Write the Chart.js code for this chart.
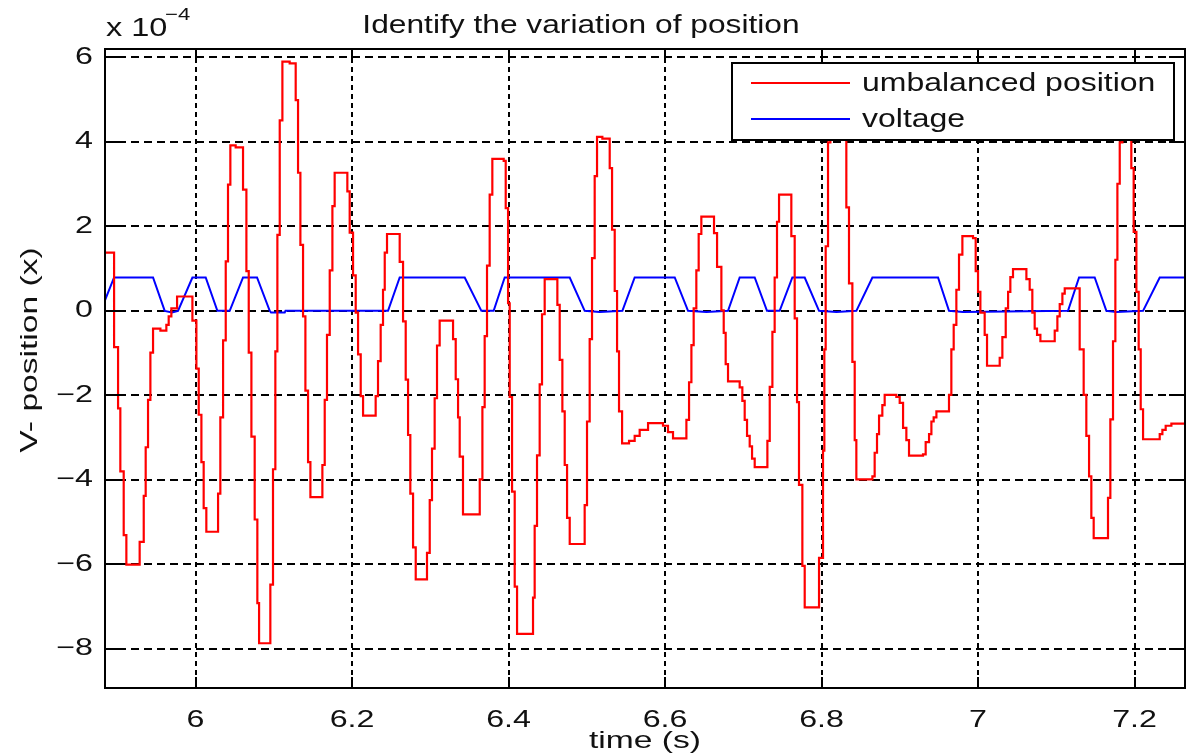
<!DOCTYPE html>
<html>
<head>
<meta charset="utf-8">
<script src="https://cdn.jsdelivr.net/npm/chart.js@4.4.1/dist/chart.umd.min.js"></script>
<style>
  html, body { margin: 0; padding: 0; background: #fff; }
  canvas { display: block; }
</style>
</head>
<body>
<canvas id="chart" width="1191" height="753"></canvas>
<script>
// values in units of 1e-4
const posTime = [
    5.8845, 5.8959, 5.9010, 5.9039, 5.9082, 5.9116, 5.9286, 5.9338, 5.9363, 5.9393,
    5.9423, 5.9457, 5.9551, 5.9627, 5.9657, 5.9691, 5.9764, 5.9960, 6.0011, 6.0041,
    6.0075, 6.0104, 6.0138, 6.0288, 6.0317, 6.0352, 6.0386, 6.0415, 6.0445, 6.0513,
    6.0607, 6.0650, 6.0680, 6.0714, 6.0756, 6.0790, 6.0812, 6.0956, 6.0990, 6.1020,
    6.1046, 6.1076, 6.1110, 6.1203, 6.1280, 6.1310, 6.1340, 6.1374, 6.1404, 6.1438,
    6.1468, 6.1621, 6.1651, 6.1680, 6.1715, 6.1749, 6.1778, 6.1940, 6.1970, 6.2013,
    6.2047, 6.2077, 6.2111, 6.2141, 6.2302, 6.2332, 6.2366, 6.2396, 6.2418, 6.2447,
    6.2609, 6.2652, 6.2686, 6.2716, 6.2745, 6.2780, 6.2814, 6.2958, 6.2993, 6.3022,
    6.3056, 6.3086, 6.3120, 6.3291, 6.3325, 6.3355, 6.3376, 6.3418, 6.3632, 6.3666,
    6.3695, 6.3725, 6.3759, 6.3793, 6.3938, 6.3964, 6.3994, 6.4015, 6.4045, 6.4079,
    6.4109, 6.4313, 6.4334, 6.4364, 6.4398, 6.4428, 6.4462, 6.4624, 6.4654, 6.4688,
    6.4718, 6.4748, 6.4782, 6.4973, 6.5003, 6.5037, 6.5067, 6.5101, 6.5131, 6.5199,
    6.5293, 6.5323, 6.5357, 6.5387, 6.5412, 6.5451, 6.5540, 6.5612, 6.5676, 6.5783,
    6.5974, 6.6038, 6.6102, 6.6273, 6.6307, 6.6337, 6.6366, 6.6400, 6.6430, 6.6464,
    6.6626, 6.6665, 6.6720, 6.6750, 6.6775, 6.6805, 6.6954, 6.6988, 6.7018, 6.7048,
    6.7082, 6.7112, 6.7146, 6.7308, 6.7338, 6.7372, 6.7401, 6.7431, 6.7457, 6.7614,
    6.7657, 6.7687, 6.7712, 6.7755, 6.7785, 6.7968, 6.8019, 6.8036, 6.8053, 6.8083,
    6.8113, 6.8211, 6.8283, 6.8317, 6.8351, 6.8394, 6.8424, 6.8445, 6.8650, 6.8679,
    6.8709, 6.8735, 6.8777, 6.8807, 6.8956, 6.8999, 6.9042, 6.9084, 6.9118, 6.9297,
    6.9331, 6.9374, 6.9404, 6.9433, 6.9468, 6.9629, 6.9659, 6.9689, 6.9723, 6.9757,
    6.9800, 6.9936, 6.9970, 7.0000, 7.0030, 7.0085, 7.0115, 7.0277, 7.0311, 7.0354,
    7.0384, 7.0413, 7.0447, 7.0618, 7.0660, 7.0694, 7.0724, 7.0754, 7.0797, 7.0980,
    7.1014, 7.1044, 7.1078, 7.1108, 7.1299, 7.1350, 7.1384, 7.1419, 7.1448, 7.1478,
    7.1661, 7.1691, 7.1725, 7.1755, 7.1781, 7.1811, 7.1845, 7.1930, 7.1959, 7.1989,
    7.2024, 7.2053, 7.2079, 7.2109, 7.2322, 7.2356, 7.2398, 7.2471, 7.2653
];
const posValue = [
    1.38, -0.86, -2.31, -3.80, -5.31, -6.01, -5.47, -4.38, -3.23, -2.11,
    -0.99, -0.42, -0.47, -0.33, -0.13, 0.06, 0.34, -0.23, -1.37, -2.46,
    -3.58, -4.67, -5.23, -4.33, -2.52, -0.70, 1.17, 2.99, 3.92, 3.87,
    2.87, 0.94, -0.99, -2.98, -4.94, -6.92, -7.87, -6.48, -3.75, -0.96,
    1.80, 4.51, 5.90, 5.86, 4.99, 3.27, 1.56, -0.13, -1.89, -3.58,
    -4.41, -3.65, -2.11, -0.57, 0.96, 2.48, 3.27, 2.83, 1.85, 0.84,
    -0.04, -1.03, -2.02, -2.48, -2.02, -1.19, -0.33, 0.50, 1.38, 1.82,
    1.16, -0.25, -1.63, -2.94, -4.33, -5.60, -6.36, -5.73, -4.48, -3.26,
    -2.07, -0.82, -0.23, -0.67, -1.62, -2.52, -3.45, -4.82, -3.99, -2.28,
    -0.60, 1.07, 2.75, 3.60, 3.55, 2.43, 0.18, -2.04, -4.28, -6.53,
    -7.65, -6.79, -5.09, -3.42, -1.74, -0.08, 0.75, 0.14, -1.16, -2.38,
    -3.65, -4.90, -5.52, -4.60, -2.62, -0.67, 1.25, 3.19, 4.12, 4.08,
    3.38, 1.92, 0.47, -0.96, -2.38, -3.14, -3.08, -2.96, -2.82, -2.66,
    -2.72, -2.87, -3.02, -2.58, -1.69, -0.81, 0.06, 0.96, 1.82, 2.23,
    1.84, 1.04, 0.01, -0.52, -1.26, -1.67, -1.81, -2.13, -2.58, -2.96,
    -3.21, -3.50, -3.70, -3.08, -1.80, -0.50, 0.79, 2.11, 2.75, 1.77,
    -0.18, -2.16, -4.12, -6.04, -7.02, -5.85, -3.31, -0.91, 1.53, 3.99,
    5.20, 5.40, 5.00, 2.45, 0.65, -1.21, -3.06, -3.99, -3.92, -3.36,
    -2.92, -2.48, -2.23, -1.99, -2.04, -2.18, -2.77, -3.06, -3.43, -3.40,
    -3.11, -2.92, -2.62, -2.52, -2.38, -1.99, -0.91, -0.33, 0.50, 1.33,
    1.77, 1.72, 0.94, 0.45, -0.04, -0.57, -1.30, -1.11, -0.62, 0.06,
    0.45, 0.80, 0.99, 0.75, 0.50, -0.04, -0.42, -0.57, -0.72, -0.47,
    -0.13, 0.16, 0.41, 0.53, -0.91, -1.99, -2.96, -3.92, -4.90, -5.38,
    -4.43, -2.57, -0.72, 1.21, 3.01, 3.99, 5.00, 4.60, 3.38, 1.87,
    0.45, -0.91, -2.33, -3.04, -2.92, -2.82, -2.72, -2.67, -2.70
];

const voltTime = [
    5.8845, 5.8959, 5.9457, 5.9606, 5.9700, 5.9776, 5.9960, 6.0130, 6.0279, 6.0437,
    6.0607, 6.0786, 6.0948, 6.0965, 6.1140, 6.1150, 6.2460, 6.2609, 6.3440, 6.3653,
    6.3810, 6.3951, 6.4782, 6.4973, 6.5165, 6.5455, 6.5612, 6.6124, 6.6294, 6.6528,
    6.6805, 6.6954, 6.7146, 6.7303, 6.7465, 6.7627, 6.7785, 6.7968, 6.8190, 6.8445,
    6.8650, 6.9489, 6.9629, 6.9808, 7.1150, 7.1291, 7.1491, 7.1640, 7.1768, 7.2109,
    7.2322, 7.2671
];
const voltValue = [
    0.26, 0.79, 0.79, 0.00, -0.04, 0.00, 0.79, 0.79, 0.00, 0.00,
    0.79, 0.79, 0.00, -0.04, -0.04, 0.00, 0.00, 0.79, 0.79, 0.00,
    0.00, 0.79, 0.79, 0.00, -0.03, 0.00, 0.79, 0.79, 0.00, -0.03,
    0.00, 0.79, 0.79, 0.00, 0.00, 0.79, 0.79, 0.00, -0.03, 0.00,
    0.79, 0.79, 0.00, -0.03, 0.00, 0.79, 0.79, 0.00, -0.03, 0.00,
    0.79, 0.79
];

const xTicks = [6, 6.2, 6.4, 6.6, 6.8, 7, 7.2];
const xTickLabels = ['6', '6.2', '6.4', '6.6', '6.8', '7', '7.2'];
const yTicks = [-8, -6, -4, -2, 0, 2, 4, 6];
const yTickLabels = ['\u22128', '\u22126', '\u22124', '\u22122', '0', '2', '4', '6'];
const seriesNames = ['umbalanced position', 'voltage'];
const seriesColors = ['#ff0000', '#0000ff'];

const FONT = '"Liberation Sans", Arial, sans-serif';
const INK = '#111';

function drawText(ctx, str, x, y, size, sx, align, rot) {
    ctx.save();
    ctx.translate(x, y);
    if (rot) ctx.rotate(rot);
    ctx.scale(sx, 1);
    ctx.font = size + 'px ' + FONT;
    ctx.fillStyle = INK;
    ctx.textAlign = align;
    ctx.textBaseline = 'middle';
    ctx.fillText(str, 0, 0);
    ctx.restore();
}

// MATLAB style frame, inward ticks, legend and all the text
const matlabFrame = {
    id: 'matlabFrame',
    afterDraw(chart) {
        const ctx = chart.ctx;
        const a = chart.chartArea;
        const xs = chart.scales.x, ys = chart.scales.y;

        // legend box
        const lg = { l: 732, t: 63, r: 1174, b: 140 };
        ctx.save();
        ctx.fillStyle = '#fff';
        ctx.fillRect(lg.l, lg.t, lg.r - lg.l, lg.b - lg.t);
        ctx.strokeStyle = '#000';
        ctx.lineWidth = 2;
        ctx.strokeRect(lg.l, lg.t, lg.r - lg.l, lg.b - lg.t);
        seriesNames.forEach((name, i) => {
            const yy = 83 + i * 36;
            ctx.strokeStyle = seriesColors[i];
            ctx.lineWidth = 2;
            ctx.beginPath();
            ctx.moveTo(751, yy);
            ctx.lineTo(850, yy);
            ctx.stroke();
            drawText(ctx, name, 862, yy + 1, 26, 1.23, 'left');
        });
        ctx.restore();

        // axes box and ticks
        ctx.save();
        ctx.strokeStyle = '#000';
        ctx.lineWidth = 2;
        ctx.strokeRect(a.left, a.top, a.right - a.left, a.bottom - a.top);
        ctx.beginPath();
        xTicks.forEach(v => {
            const px = Math.round(xs.getPixelForValue(v));
            ctx.moveTo(px, a.bottom); ctx.lineTo(px, a.bottom - 11);
            ctx.moveTo(px, a.top); ctx.lineTo(px, a.top + 11);
        });
        yTicks.forEach(v => {
            const py = Math.round(ys.getPixelForValue(v));
            ctx.moveTo(a.left, py); ctx.lineTo(a.left + 16, py);
            ctx.moveTo(a.right, py); ctx.lineTo(a.right - 16, py);
        });
        ctx.stroke();
        ctx.restore();

        // tick labels
        xTicks.forEach((v, i) => {
            drawText(ctx, xTickLabels[i], xs.getPixelForValue(v), 721, 23, 1.4, 'center');
        });
        yTicks.forEach((v, i) => {
            drawText(ctx, yTickLabels[i], 93, ys.getPixelForValue(v), 23, 1.4, 'right');
        });

        // titles
        drawText(ctx, 'Identify the variation of position', 581, 26, 26, 1.22, 'center');
        drawText(ctx, 'x 10', 106, 29, 25, 1.3, 'left');
        drawText(ctx, '\u22124', 165, 15, 17, 1.3, 'left');
        drawText(ctx, 'time (s)', 645, 741, 24, 1.4, 'center');
        drawText(ctx, 'V- position (x)', 30, 350, 24, 1.4, 'center', -Math.PI / 2);
    }
};

const ctx = document.getElementById('chart').getContext('2d');
new Chart(ctx, {
    type: 'line',
    data: {
        datasets: [
            {
                label: seriesNames[0],
                data: posTime.map((t, i) => ({ x: t, y: posValue[i] })),
                borderColor: seriesColors[0],
                borderWidth: 2.2,
                stepped: true,
                pointRadius: 0,
                fill: false
            },
            {
                label: seriesNames[1],
                data: voltTime.map((t, i) => ({ x: t, y: voltValue[i] })),
                borderColor: seriesColors[1],
                borderWidth: 2,
                tension: 0,
                pointRadius: 0,
                fill: false
            }
        ]
    },
    options: {
        responsive: false,
        animation: false,
        layout: { padding: { top: 49, right: 6, left: 0, bottom: 0 } },
        plugins: {
            legend: { display: false },
            title: { display: false },
            tooltip: { enabled: false }
        },
        scales: {
            x: {
                type: 'linear',
                min: 5.8843,
                max: 7.2645,
                afterBuildTicks: s => { s.ticks = xTicks.map(v => ({ value: v })); },
                afterFit: s => { s.height = 65; },
                ticks: { display: false },
                grid: { color: '#000', lineWidth: 2, drawTicks: false },
                border: { display: false, dash: [5, 4] }
            },
            y: {
                type: 'linear',
                min: -8.93,
                max: 6.2,
                afterBuildTicks: s => { s.ticks = yTicks.map(v => ({ value: v })); },
                afterFit: s => { s.width = 105; },
                ticks: { display: false },
                grid: { color: '#000', lineWidth: 2, drawTicks: false },
                border: { display: false, dash: [8, 5] }
            }
        }
    },
    plugins: [matlabFrame]
});
</script>
</body>
</html>
